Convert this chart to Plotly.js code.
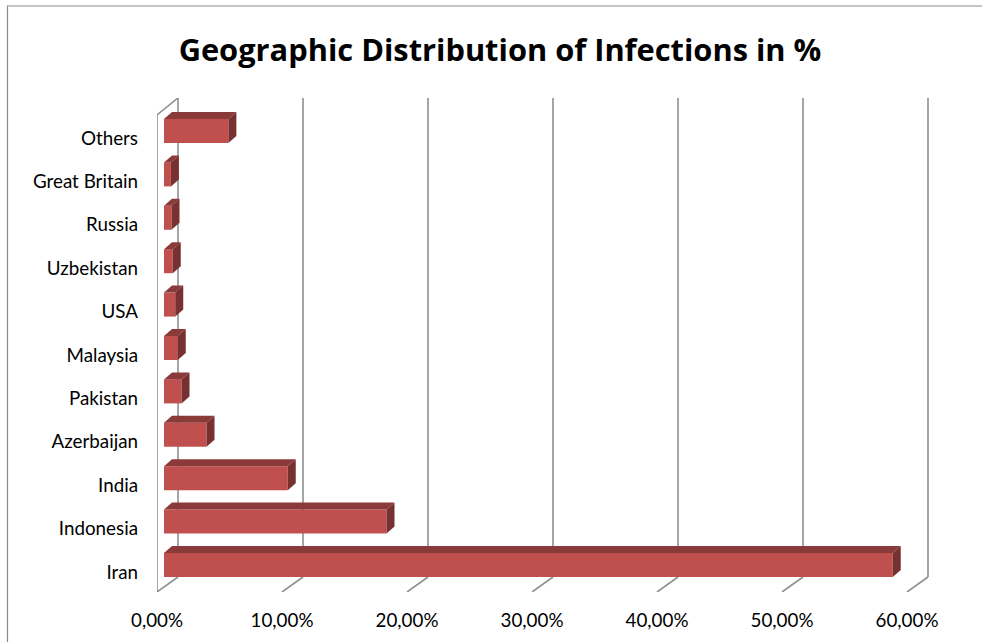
<!DOCTYPE html>
<html>
<head>
<meta charset="utf-8">
<script src="https://cdn.plot.ly/plotly-3.0.1.min.js"></script>
<style>
  html, body { margin: 0; padding: 0; background: #ffffff; }
  #chart { width: 982px; height: 642px; }
</style>
</head>
<body>
<div id="chart"></div>
<script>
// Share of infections per country (%), bottom row first
const countries = ['Iran', 'Indonesia', 'India', 'Azerbaijan', 'Pakistan', 'Malaysia',
                   'USA', 'Uzbekistan', 'Russia', 'Great Britain', 'Others'];
const shares = [58.3, 17.8, 9.9, 3.4, 1.4, 1.1, 0.9, 0.7, 0.6, 0.55, 5.15];
const xTicks = [0, 10, 20, 30, 40, 50, 60];
const xTickText = xTicks.map(v => v.toFixed(2).replace('.', ',') + '%');

// Pseudo-3D geometry, in axis units
const PX_X = 12.5;          // pixels per 1 %
const PX_Y = 43.4;          // pixels per category step
const barW = 0.553;         // bar thickness (category units)
const depthX = 8 / PX_X;    // bar depth, horizontal component
const depthY = 7 / PX_Y;    // bar depth, vertical component
const wallBackX = 14 / PX_X;   // back wall offset from bar front plane
const wallFrontX = -7 / PX_X;  // front edge offset from bar front plane
const yMin = -0.622, yMax = 10.76;
const floorBackY = yMin + 15 / PX_Y;
const wallTopFrontY = yMin + (592 - 115) / PX_Y;

const idx = countries.map((_, i) => i);
const front = '#c0504d', topC = '#8b3a3a', sideC = '#783131';

const traces = [];
// front faces
traces.push({
  type: 'bar', orientation: 'h', x: shares, y: idx, base: 0, width: barW,
  marker: { color: front, line: { width: 0 } }, hoverinfo: 'skip', showlegend: false
});
// top and side faces
shares.forEach((v, i) => {
  const yt = i + barW / 2, yb = i - barW / 2;
  traces.push({
    type: 'scatter', mode: 'lines', fill: 'toself', fillcolor: topC,
    line: { width: 0, color: topC },
    x: [0, v, v + depthX, depthX, 0],
    y: [yt, yt, yt + depthY, yt + depthY, yt],
    hoverinfo: 'skip', showlegend: false
  });
  traces.push({
    type: 'scatter', mode: 'lines', fill: 'toself', fillcolor: sideC,
    line: { width: 0, color: sideC },
    x: [v, v + depthX, v + depthX, v, v],
    y: [yb, yb + depthY, yt + depthY, yt, yb],
    hoverinfo: 'skip', showlegend: false
  });
});

const gridColor = '#8f8f8f';
const shapes = [];
xTicks.forEach(v => {
  // back wall gridline
  shapes.push({ type: 'line', layer: 'below', xref: 'x', yref: 'y',
    x0: v + wallBackX, x1: v + wallBackX, y0: floorBackY, y1: yMax,
    line: { color: gridColor, width: 1.6 } });
  // floor diagonal
  shapes.push({ type: 'line', layer: 'below', xref: 'x', yref: 'y',
    x0: v + wallFrontX, x1: v + wallBackX, y0: yMin, y1: floorBackY,
    line: { color: gridColor, width: 1.6 } });
});
// left side wall
shapes.push({ type: 'line', layer: 'below', xref: 'x', yref: 'y',
  x0: wallFrontX, x1: wallFrontX, y0: yMin, y1: wallTopFrontY,
  line: { color: gridColor, width: 1.6 } });
shapes.push({ type: 'line', layer: 'below', xref: 'x', yref: 'y',
  x0: wallFrontX, x1: wallBackX, y0: wallTopFrontY, y1: yMax,
  line: { color: gridColor, width: 1.6 } });
// chart area border
shapes.push({ type: 'rect', layer: 'below', xref: 'paper', yref: 'paper',
  x0: (7.5 - 157) / 772, x1: 1.5, y0: -0.5, y1: (592 - 6) / 494,
  line: { color: '#8a8a8a', width: 1.2 }, fillcolor: 'rgba(0,0,0,0)' });

const labelFont = { family: 'Lato, "Open Sans", sans-serif', size: 18.8, color: '#000000' };

const layout = {
  width: 982, height: 642,
  margin: { l: 157, r: 53, t: 98, b: 50 },
  paper_bgcolor: '#ffffff', plot_bgcolor: 'rgba(0,0,0,0)',
  showlegend: false,
  barmode: 'overlay',
  title: {
    text: '<b>Geographic Distribution of Infections in %</b>',
    x: 500 / 982, xref: 'container', xanchor: 'center',
    y: 1 - 50 / 642, yref: 'container', yanchor: 'middle',
    font: { family: '"Open Sans", Lato, sans-serif', size: 30.8, color: '#000000' }
  },
  xaxis: {
    range: [wallFrontX, (929 - 164) / PX_X],
    tickvals: xTicks, ticktext: xTickText,
    showgrid: false, zeroline: false, showline: false, ticks: '',
    ticklabelshift: -7, ticklabelstandoff: 15,
    tickfont: labelFont,
    fixedrange: true
  },
  yaxis: {
    range: [yMin, yMax],
    tickvals: idx, ticktext: countries,
    showgrid: false, zeroline: false, showline: false, ticks: '',
    ticklabelshift: 7, ticklabelstandoff: 18,
    tickfont: labelFont,
    fixedrange: true
  },
  shapes: shapes
};

Plotly.newPlot('chart', traces, layout, { staticPlot: true, displayModeBar: false });
</script>
</body>
</html>
